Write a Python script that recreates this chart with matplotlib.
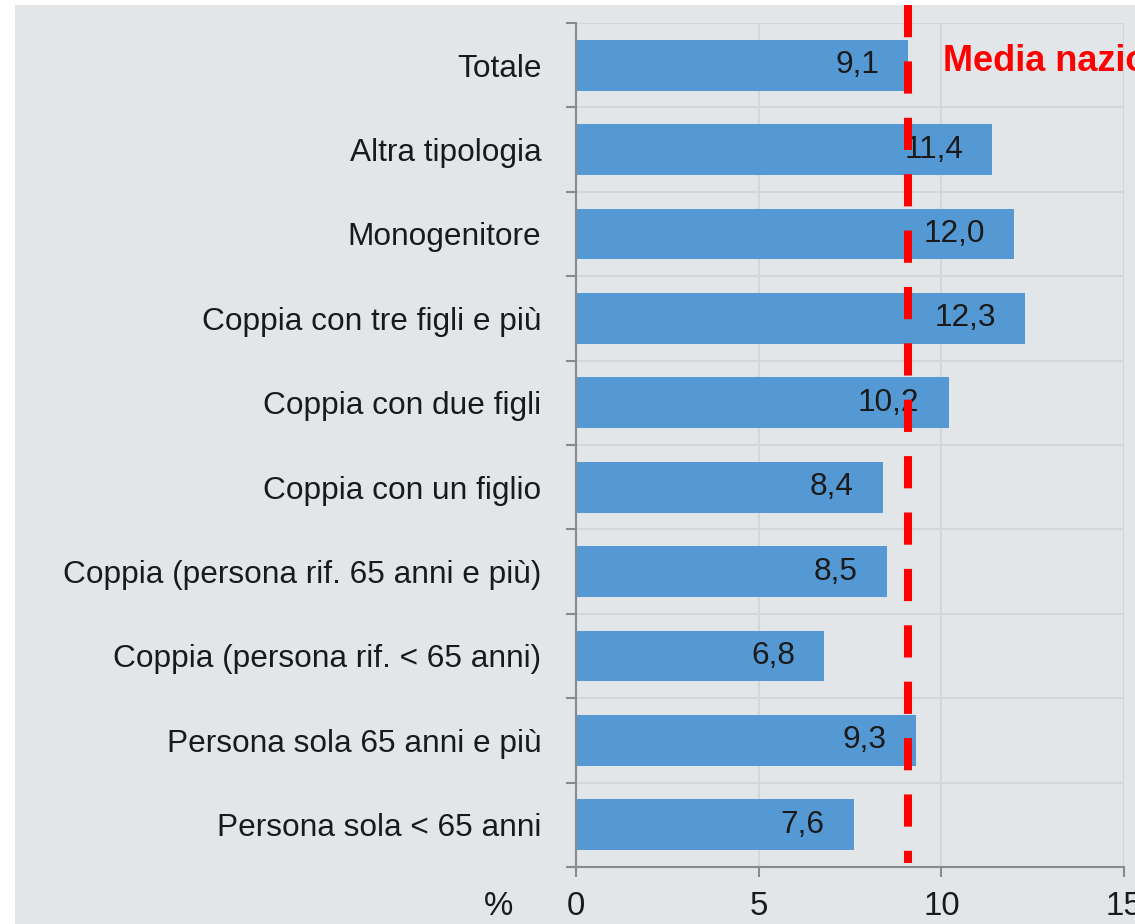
import matplotlib
matplotlib.use("Agg")
import matplotlib.pyplot as plt
from matplotlib import font_manager
from matplotlib.patches import Rectangle
from matplotlib.ticker import FixedLocator, NullFormatter, FixedFormatter
import numpy as np

categories = [
    "Totale",
    "Altra tipologia",
    "Monogenitore",
    "Coppia con tre figli e più",
    "Coppia con due figli",
    "Coppia con un figlio",
    "Coppia (persona rif. 65 anni e più)",
    "Coppia (persona rif. < 65 anni)",
    "Persona sola 65 anni e più",
    "Persona sola < 65 anni",
]
values = [9.1, 11.4, 12.0, 12.3, 10.2, 8.4, 8.5, 6.8, 9.3, 7.6]
value_labels = ["9,1", "11,4", "12,0", "12,3", "10,2", "8,4", "8,5", "6,8", "9,3", "7,6"]
media_nazionale = 9.1
media_label = "Media nazionale"
x_ticks = [0, 5, 10, 15]
x_tick_labels = ["0", "5", "10", "15"]
x_unit = "%"

lab_font, lab_size, val_size = "Liberation Sans", 22.8, 22.8

BG = "#e3e6e8"
BAR = "#5499d3"
GRID = "#d3d7d9"
AX = "#8a8a8a"
TXT = "#1a1a1a"

W, H = 1135, 924
fig = plt.figure(figsize=(W / 100, H / 100), dpi=100, facecolor="white")
fig.patches.append(Rectangle((15 / W, 0), 1, 1 - 5 / H, transform=fig.transFigure,
                             facecolor=BG, edgecolor="none", zorder=-10))

ax = fig.add_axes([576 / W, 57 / H, 548 / W, 844 / H])
ax.set_facecolor(BG)
ax.patch.set_alpha(0)

y = np.arange(len(categories))
ax.barh(y, values, height=0.6, color=BAR, zorder=3)
ax.set_ylim(len(categories) - 0.5, -0.5)
ax.set_xlim(0, 15)

# value labels
for yi, v, lab in zip(y, values, value_labels):
    ax.annotate(lab, xy=(v, yi), xytext=(-21, 0), textcoords="offset points",
                ha="right", va="center", fontsize=val_size, family=lab_font,
                color=TXT, zorder=5)

# y axis: ticks at boundaries, labels at centres
ax.yaxis.set_major_locator(FixedLocator(np.arange(len(categories) + 1) - 0.5))
ax.yaxis.set_major_formatter(NullFormatter())
ax.yaxis.set_minor_locator(FixedLocator(y))
ax.yaxis.set_minor_formatter(FixedFormatter(categories))
ax.tick_params(axis="y", which="major", length=7, width=1.5, color=AX, direction="out")
ax.tick_params(axis="y", which="minor", length=0, pad=25, labelsize=lab_size,
               labelcolor=TXT)
for t in ax.yaxis.get_minorticklabels():
    t.set_family(lab_font)

ax.set_xticks(x_ticks)
ax.set_xticklabels(x_tick_labels)
ax.tick_params(axis="x", length=7, width=1.5, color=AX, direction="out", pad=10,
               labelsize=lab_size + 1, labelcolor=TXT)
for t in ax.get_xticklabels():
    t.set_family(lab_font)

ax.annotate(x_unit, xy=(0, 0), xycoords="axes fraction", xytext=(-56, -17),
            textcoords="offset points", ha="center", va="top",
            fontsize=lab_size + 1, family=lab_font, color=TXT)

ax.grid(True, which="major", color=GRID, linewidth=1.5, zorder=0)
ax.set_axisbelow(True)
for s in ["top", "right"]:
    ax.spines[s].set_visible(False)
for s in ["left", "bottom"]:
    ax.spines[s].set_color(AX)
    ax.spines[s].set_linewidth(1.5)
    ax.spines[s].set_zorder(4)

# national average line
trans = ax.get_xaxis_transform()
ax.plot([media_nazionale, media_nazionale], [1 + 18 / 844, 4 / 844], transform=trans,
        color="#ff0000", linewidth=5.8, dashes=(4, 3), dash_capstyle="butt",
        clip_on=False, zorder=6)
ax.text(10.05, 0.943, media_label, transform=trans, color="#ff0000",
        fontsize=26, fontweight="bold", family="Liberation Sans",
        ha="left", va="baseline", clip_on=False, zorder=6)

fig.savefig("out.png", dpi=100, facecolor=fig.get_facecolor())
